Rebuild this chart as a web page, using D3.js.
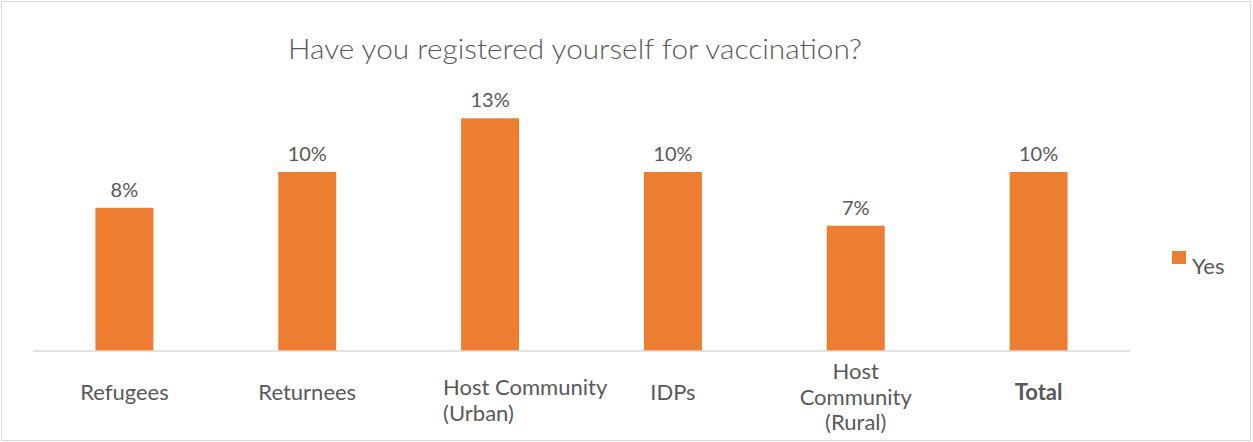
<!DOCTYPE html>
<html>
<head>
<meta charset="utf-8">
<script src="https://cdn.jsdelivr.net/npm/d3@7"></script>
<style>
  html, body { margin: 0; padding: 0; background: #fff; }
  svg { display: block; }
</style>
</head>
<body>
<svg id="chart" width="1253" height="442"></svg>
<script>
// Share of respondents who registered for vaccination, by group
const categories = ["Refugees", "Returnees", "Host Community (Urban)", "IDPs", "Host Community (Rural)", "Total"];
const categoryLines = [["Refugees"], ["Returnees"], ["Host Community", "(Urban)"], ["IDPs"], ["Host", "Community", "(Rural)"], ["Total"]];
const yesValues = [8, 10, 13, 10, 7, 10];
const seriesName = "Yes";
const titleText = "Have you registered yourself for vaccination?";

const W = 1253, H = 442;
const font = "Lato, 'Open Sans', sans-serif";
const textColor = "#595959";
const barColor = "#ED7D31";

const svg = d3.select("#chart");

// chart frame
svg.append("rect")
  .attr("x", 1.5).attr("y", 1.5)
  .attr("width", W - 4).attr("height", H - 3)
  .attr("fill", "#fff").attr("stroke", "#d9d9d9").attr("stroke-width", 1);

const plot = { left: 33, right: 1130, bottom: 351 };

const x = d3.scaleBand()
  .domain(categories)
  .range([plot.left, plot.right])
  .paddingInner(0.683)
  .paddingOuter(0.3415);

const y = d3.scaleLinear()
  .domain([0, 10])
  .range([plot.bottom, plot.bottom - 179]);

// title
svg.append("text")
  .attr("x", 575).attr("y", 59)
  .attr("text-anchor", "middle")
  .attr("font-family", font)
  .attr("font-size", 27)
  .attr("font-weight", 300)
  .attr("fill", textColor)
  .attr("textLength", 574)
  .attr("lengthAdjust", "spacingAndGlyphs")
  .text(titleText);

// bars
svg.append("g").selectAll("rect")
  .data(yesValues)
  .join("rect")
  .attr("x", (d, i) => x(categories[i]))
  .attr("width", x.bandwidth())
  .attr("y", d => y(d))
  .attr("height", d => y(0) - y(d))
  .attr("fill", barColor);

// value labels
svg.append("g").selectAll("text")
  .data(yesValues)
  .join("text")
  .attr("x", (d, i) => x(categories[i]) + x.bandwidth() / 2)
  .attr("y", d => y(d) - 11)
  .attr("text-anchor", "middle")
  .attr("font-family", font)
  .attr("font-size", 20)
  .attr("fill", textColor)
  .text(d => d + "%");

// baseline axis
const xAxis = d3.axisBottom(x).tickSize(0).tickFormat("");
const axisG = svg.append("g")
  .attr("transform", `translate(0,${plot.bottom})`)
  .call(xAxis);
axisG.select(".domain").attr("stroke", "#d9d9d9").attr("stroke-width", 1.5)
  .attr("d", `M${plot.left},0H${plot.right}`);

// category labels
const labelSpec = [
  { anchor: "middle", dx: 0, y0: 400 },
  { anchor: "middle", dx: 0, y0: 400 },
  { anchor: "start", dx: -47, y0: 395 },
  { anchor: "middle", dx: 0, y0: 400 },
  { anchor: "middle", dx: 0, y0: 379 },
  { anchor: "middle", dx: 0, y0: 400 }
];
categories.forEach((c, i) => {
  const cx = x(c) + x.bandwidth() / 2;
  const spec = labelSpec[i];
  const t = axisG.append("text")
    .attr("x", cx + spec.dx)
    .attr("y", spec.y0 - plot.bottom)
    .attr("text-anchor", spec.anchor)
    .attr("font-family", font)
    .attr("font-size", 22)
    .attr("font-weight", c === "Total" ? 700 : 400)
    .attr("fill", textColor);
  categoryLines[i].forEach((line, j) => {
    t.append("tspan")
      .attr("x", cx + spec.dx)
      .attr("dy", j === 0 ? 0 : 25.5)
      .text(line);
  });
});

// legend
const legend = svg.append("g").attr("transform", "translate(1172,251)");
legend.append("rect").attr("width", 14).attr("height", 13).attr("fill", barColor);
legend.append("text")
  .attr("x", 20).attr("y", 23)
  .attr("font-family", font)
  .attr("font-size", 22)
  .attr("fill", textColor)
  .text(seriesName);
</script>
</body>
</html>
